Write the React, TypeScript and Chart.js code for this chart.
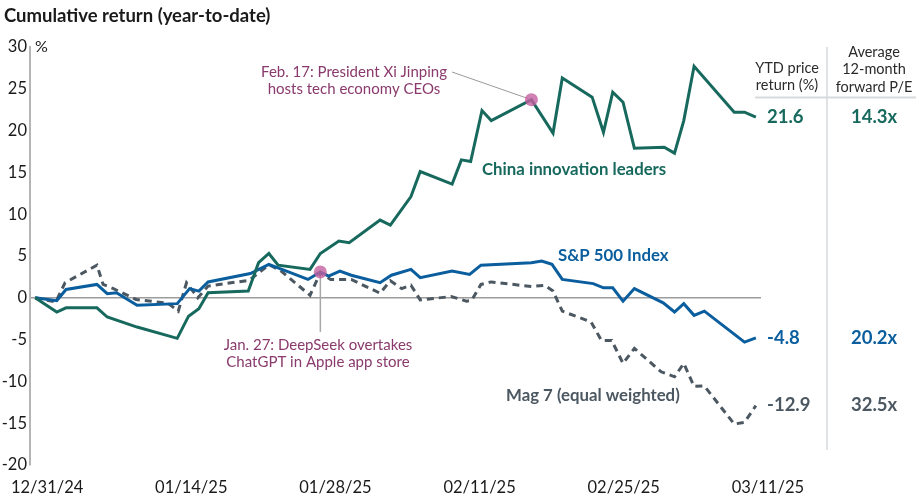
import React, { useEffect, useRef } from "react";
import { Chart, registerables } from "chart.js";

Chart.register(...registerables);

// ---- Data (days since 12/31/24, cumulative return %) ----
const xTickDays = [0, 14, 28, 42, 56, 70];
const xTickLabels = ["12/31/24", "01/14/25", "01/28/25", "02/11/25", "02/25/25", "03/11/25"];

const chinaDays = [0, 2.1, 3, 6, 7, 9.9, 13.8, 14.9, 15.9, 16.8, 20.7, 21.7, 22.7, 23.6, 26.7, 27.7, 29.5, 30.5, 33.5, 34.5, 36.5, 37.4, 40.5, 41.4, 42.3, 43.4, 44.3, 48.2, 50.3, 51.2, 54.1, 55.2, 56.1, 57.1, 58.2, 61.1, 62.1, 63, 64, 67.9, 68.9, 70];
const chinaReturns = [0, -1.7, -1.2, -1.2, -2.3, -3.5, -4.85, -2.2, -1.3, 0.6, 0.8, 4.2, 5.3, 3.9, 3.4, 5.3, 6.8, 6.6, 9.3, 8.7, 12.1, 15.1, 13.6, 16.5, 16.3, 22.4, 21.2, 23.7, 19.7, 26.3, 24.0, 19.8, 24.6, 23.4, 17.9, 18.0, 17.3, 21.2, 27.7, 22.2, 22.2, 21.6];

const spxDays = [0, 2.1, 3, 6, 7, 7.9, 9.9, 13.8, 15, 15.9, 16.8, 20.9, 22.7, 26.5, 27.7, 28.5, 29.6, 30.7, 33.5, 34.6, 36.5, 37.4, 40.5, 42.2, 43.3, 48.2, 49.2, 50.2, 51.2, 54.2, 55.2, 56.1, 57.1, 58.2, 61, 62.1, 63, 64, 65, 68.9, 70];
const spxReturns = [0, -0.35, 1.0, 1.6, 0.5, 0.6, -0.9, -0.7, 1.1, 0.8, 1.9, 2.9, 4.0, 2.2, 3.1, 2.6, 3.2, 2.7, 1.8, 2.7, 3.4, 2.4, 3.2, 2.8, 3.9, 4.2, 4.4, 4.0, 2.2, 1.7, 1.2, 1.2, -0.4, 1.1, -0.6, -1.7, -0.7, -2.1, -1.6, -5.3, -4.8];

const magDays = [0, 2, 2.9, 6, 6.6, 7.6, 9.8, 12.9, 13.9, 14.7, 15.8, 16.8, 20.8, 22.7, 23.8, 26.7, 27.7, 28.7, 30.7, 33.5, 34.5, 35.6, 36.5, 37.4, 40.4, 41.9, 42.4, 43.3, 44.3, 48.2, 49.5, 50.3, 51.2, 54, 55, 56, 57.1, 58.2, 60.8, 62.1, 63, 64, 65, 67.9, 68.9, 70];
const magReturns = [0, -0.5, 1.8, 3.9, 1.6, 1.1, -0.2, -0.65, -1.6, 1.8, 0.0, 1.4, 2.1, 3.95, 3.3, 0.3, 3.0, 2.2, 2.2, 0.55, 2.05, 1.1, 1.5, -0.25, 0.15, -0.4, -0.3, 1.6, 1.9, 1.35, 1.5, 0.8, -1.6, -2.9, -5.1, -5.1, -7.85, -6.05, -8.85, -9.45, -7.85, -10.6, -10.55, -15.1, -14.9, -12.9];

const eventDays = [27.7, 48.2];
const eventValues = [3.1, 23.7];
const eventLabels = [
  ["Jan. 27: DeepSeek overtakes", "ChatGPT in Apple app store"],
  ["Feb. 17: President Xi Jinping", "hosts tech economy CEOs"],
];

const seriesNames = ["China innovation leaders", "S&P 500 Index", "Mag 7 (equal weighted)"];
const ytdReturns = ["21.6", "-4.8", "-12.9"];
const forwardPE = ["14.3x", "20.2x", "32.5x"];
const tableHeaders = [["YTD price", "return (%)"], ["Average", "12-month", "forward P/E"]];
const chartTitle = "Cumulative return (year-to-date)";

const TEAL = "#17695d";
const BLUE = "#0b5e9e";
const GRAY = "#4b5761";
const PURPLE = "#8a3a6c";
const FONT = "Lato, 'Noto Sans', sans-serif";

const toPoints = (xs: number[], ys: number[]) => xs.map((x, i) => ({ x, y: ys[i] }));

const overlayPlugin = {
  id: "overlay",
  beforeDatasetsDraw(chart: any) {
    const { ctx, scales } = chart;
    const x = scales.x;
    const y = scales.y;
    ctx.save();
    const jx = x.getPixelForValue(eventDays[0]);
    const jy = y.getPixelForValue(eventValues[0]);
    ctx.strokeStyle = "#a8a8a8";
    ctx.lineWidth = 1.5;
    ctx.beginPath();
    ctx.moveTo(jx, jy);
    ctx.lineTo(jx, jy + 60);
    ctx.stroke();
    const fx = x.getPixelForValue(eventDays[1]);
    const fy = y.getPixelForValue(eventValues[1]);
    ctx.strokeStyle = "#9a9a9a";
    ctx.lineWidth = 1;
    ctx.beginPath();
    ctx.moveTo(452, 72);
    ctx.lineTo(fx - 3, fy - 1);
    ctx.stroke();
    ctx.restore();
  },
  afterDraw(chart: any) {
    const { ctx } = chart;
    ctx.save();
    ctx.textBaseline = "middle";
    ctx.fillStyle = "#1a1a1a";
    ctx.font = `bold 18.5px ${FONT}`;
    ctx.textAlign = "left";
    ctx.fillText(chartTitle, 4, 16);
    ctx.font = `16px ${FONT}`;
    ctx.fillText("%", 35, 47);
    ctx.fillStyle = PURPLE;
    ctx.font = `15px ${FONT}`;
    ctx.textAlign = "center";
    ctx.fillText(eventLabels[1][0], 354, 72);
    ctx.fillText(eventLabels[1][1], 354, 89);
    ctx.fillText(eventLabels[0][0], 318, 345);
    ctx.fillText(eventLabels[0][1], 318, 362);
    ctx.font = `bold 16.8px ${FONT}`;
    ctx.textAlign = "left";
    ctx.fillStyle = TEAL;
    ctx.fillText(seriesNames[0], 482, 170);
    ctx.fillStyle = BLUE;
    ctx.fillText(seriesNames[1], 558, 256);
    ctx.fillStyle = GRAY;
    ctx.fillText(seriesNames[2], 506, 396);
    ctx.strokeStyle = "#d6dadd";
    ctx.lineWidth = 1.5;
    ctx.beginPath();
    ctx.moveTo(827, 47);
    ctx.lineTo(827, 450);
    ctx.stroke();
    ctx.lineWidth = 2;
    ctx.beginPath();
    ctx.moveTo(755, 97.5);
    ctx.lineTo(916, 97.5);
    ctx.stroke();
    ctx.fillStyle = "#2a2a2a";
    ctx.font = `14.5px ${FONT}`;
    ctx.textAlign = "center";
    ctx.fillText(tableHeaders[0][0], 787, 68);
    ctx.fillText(tableHeaders[0][1], 787, 85);
    ctx.fillText(tableHeaders[1][0], 874, 52);
    ctx.fillText(tableHeaders[1][1], 874, 69.5);
    ctx.fillText(tableHeaders[1][2], 874, 87);
    const colors = [TEAL, BLUE, GRAY];
    const rowY = [117, 338, 405];
    ctx.font = `bold 18.5px ${FONT}`;
    ctx.textAlign = "left";
    for (let i = 0; i < 3; i++) {
      ctx.fillStyle = colors[i];
      ctx.fillText(ytdReturns[i], 767, rowY[i]);
      ctx.fillText(forwardPE[i], 851, rowY[i]);
    }
    ctx.restore();
  },
};

export default function App() {
  const canvasRef = useRef<HTMLCanvasElement | null>(null);

  useEffect(() => {
    if (!canvasRef.current) return;
    Chart.defaults.font.family = FONT;
    const chart = new Chart(canvasRef.current, {
      type: "line",
      data: {
        datasets: [
          {
            label: "Events",
            data: toPoints(eventDays, eventValues),
            showLine: false,
            pointRadius: 6.5,
            pointHoverRadius: 6.5,
            pointBackgroundColor: "rgba(196, 96, 160, 0.8)",
            pointBorderWidth: 0,
            order: 0,
          },
          {
            label: seriesNames[0],
            data: toPoints(chinaDays, chinaReturns),
            borderColor: TEAL,
            borderWidth: 3,
            pointRadius: 0,
            tension: 0,
            borderJoinStyle: "miter",
            order: 1,
          },
          {
            label: seriesNames[1],
            data: toPoints(spxDays, spxReturns),
            borderColor: BLUE,
            borderWidth: 3,
            pointRadius: 0,
            tension: 0,
            borderJoinStyle: "miter",
            order: 2,
          },
          {
            label: seriesNames[2],
            data: toPoints(magDays, magReturns),
            borderColor: GRAY,
            borderWidth: 3,
            borderDash: [7, 5],
            pointRadius: 0,
            tension: 0,
            order: 3,
          },
        ],
      },
      options: {
        responsive: false,
        animation: false,
        events: [],
        layout: { padding: { top: 47, right: 155, bottom: 0, left: 0 } },
        plugins: {
          legend: { display: false },
          title: { display: false },
          tooltip: { enabled: false },
        },
        scales: {
          x: {
            type: "linear",
            min: -0.5,
            max: 70.5,
            afterFit: (s: any) => {
              s.height = 35;
              s.paddingLeft = 0;
              s.paddingRight = 0;
            },
            afterBuildTicks: (s: any) => {
              s.ticks = xTickDays.map((v) => ({ value: v }));
            },
            border: { display: false },
            grid: { display: false, drawTicks: false },
            ticks: {
              autoSkip: false,
              maxRotation: 0,
              padding: 13,
              labelOffset: 12,
              color: "#1a1a1a",
              font: { size: 16.5, family: FONT },
              callback: (v: any) => {
                const i = xTickDays.indexOf(Number(v));
                return i >= 0 ? xTickLabels[i] : "";
              },
            },
          },
          y: {
            min: -20,
            max: 30,
            afterFit: (s: any) => {
              s.width = 30;
              s.paddingTop = 0;
              s.paddingBottom = 0;
            },
            border: { display: true, color: "#b5b5b5", width: 2 },
            grid: {
              drawTicks: false,
              lineWidth: 1.5,
              color: (c: any) => (c.tick && c.tick.value === 0 ? "#9c9c9c" : "rgba(0,0,0,0)"),
            },
            ticks: {
              stepSize: 5,
              padding: 3,
              color: "#1a1a1a",
              font: { size: 16.5, family: FONT },
            },
          },
        },
      },
      plugins: [overlayPlugin],
    });
    return () => chart.destroy();
  }, []);

  return (
    <div style={{ position: "absolute", left: 0, top: 0, width: 916, height: 500, background: "#fff" }}>
      <canvas ref={canvasRef} width={916} height={500} style={{ display: "block" }} />
    </div>
  );
}
